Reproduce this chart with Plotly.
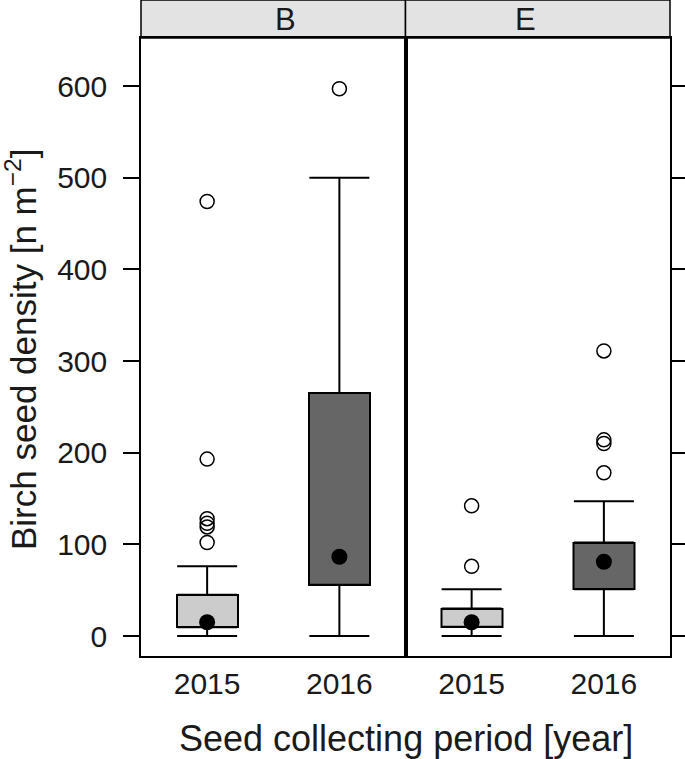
import plotly.graph_objects as go

panels = ["B", "E"]
years = ["2015", "2016"]
# per panel, per year
lower = {"B": [0, 0], "E": [0, 0]}
q1 = {"B": [9.5, 56], "E": [10, 51]}
median = {"B": [15, 86.5], "E": [15, 81]}
q3 = {"B": [45, 265], "E": [30, 102]}
upper = {"B": [76, 500], "E": [51, 147]}
outliers = {
    "B": [[102, 119, 123, 128, 193, 474], [597]],
    "E": [[76, 142], [178, 210, 214, 311]],
}
yticks = [0, 100, 200, 300, 400, 500, 600]
box_colors = ["#cccccc", "#666666"]

W, H = 685, 759
ML, MR, MT, MB = 141, 15, 38, 103
plot_h = H - MT - MB
plot_w = W - ML - MR

fig = go.Figure()
xpos = [1, 2]
for i, p in enumerate(panels):
    xa = "x" if i == 0 else "x2"
    ya = "y" if i == 0 else "y2"
    fig.add_trace(go.Bar(
        x=xpos, y=[b - a for a, b in zip(q1[p], q3[p])], base=q1[p], width=0.46,
        marker=dict(color=box_colors, line=dict(color="black", width=2)),
        xaxis=xa, yaxis=ya, showlegend=False, hoverinfo="skip"))
    fig.add_trace(go.Scatter(
        x=xpos, y=q3[p], mode="markers", marker=dict(color="rgba(0,0,0,0)", size=1),
        error_y=dict(type="data", symmetric=False,
                     array=[u - b for u, b in zip(upper[p], q3[p])],
                     arrayminus=[0, 0], color="black", thickness=2, width=30),
        xaxis=xa, yaxis=ya, showlegend=False, hoverinfo="skip"))
    fig.add_trace(go.Scatter(
        x=xpos, y=q1[p], mode="markers", marker=dict(color="rgba(0,0,0,0)", size=1),
        error_y=dict(type="data", symmetric=False, array=[0, 0],
                     arrayminus=[a - l for a, l in zip(q1[p], lower[p])],
                     color="black", thickness=2, width=30),
        xaxis=xa, yaxis=ya, showlegend=False, hoverinfo="skip"))
    ox, oy = [], []
    for j, vals in enumerate(outliers[p]):
        ox += [xpos[j]] * len(vals)
        oy += vals
    fig.add_trace(go.Scatter(
        x=ox, y=oy, mode="markers",
        marker=dict(symbol="circle-open", size=14, color="black", line=dict(width=1.5)),
        xaxis=xa, yaxis=ya, showlegend=False))
    fig.add_trace(go.Scatter(
        x=xpos, y=median[p], mode="markers",
        marker=dict(symbol="circle", size=16, color="black"),
        xaxis=xa, yaxis=ya, showlegend=False))

font = "Liberation Sans, Arial, sans-serif"
yrange = [-21.8, 652.4]
axis_common = dict(showline=True, linecolor="black", linewidth=1.5, mirror=True,
                   showgrid=False, zeroline=False, automargin=False)
fig.update_layout(
    width=W, height=H, margin=dict(l=ML, r=MR, t=MT, b=MB, autoexpand=False),
    plot_bgcolor="white", paper_bgcolor="white",
    font=dict(family=font, size=30, color="#1a1a1a"),
    bargap=0,
    xaxis=dict(domain=[0, 0.5], range=[0.5, 2.5], tickvals=xpos, ticktext=years,
               ticks="", **axis_common),
    xaxis2=dict(domain=[0.5, 1], range=[0.5, 2.5], tickvals=xpos, ticktext=years,
                ticks="", **axis_common),
    yaxis=dict(range=yrange, tickvals=yticks, ticklabelstandoff=10,
               ticks="outside", ticklen=16, tickwidth=1.5, tickcolor="black",
               **axis_common),
    yaxis2=dict(range=yrange, anchor="x2", side="right",
                tickvals=yticks, showticklabels=False,
                ticks="outside", ticklen=15, tickwidth=1.5, tickcolor="black",
                **axis_common),
)
fig.add_annotation(text="Seed collecting period [year]", xref="paper", yref="paper",
                   x=(406 - ML) / plot_w, y=-(738 - (H - MB)) / plot_h, yanchor="middle",
                   xanchor="center", showarrow=False, font=dict(size=36))
fig.add_annotation(text="Birch seed density [n m<sup>−2</sup>]", xref="paper", yref="paper",
                   x=(21 - ML) / plot_w, y=((H - MB) - 350) / plot_h, textangle=-90,
                   xanchor="center", yanchor="middle", showarrow=False, font=dict(size=35))

strip_h = 38 / plot_h
for i, p in enumerate(panels):
    fig.add_shape(type="rect", xref="paper", yref="paper", x0=i * 0.5, x1=(i + 1) * 0.5,
                  y0=1, y1=1 + strip_h, fillcolor="#e3e3e3",
                  line=dict(color="black", width=1.5), layer="below")
    fig.add_annotation(text=p, xref="paper", yref="paper", x=i * 0.5 + 0.25,
                       y=1 + strip_h / 2, yanchor="middle", showarrow=False,
                       font=dict(size=31))

fig.write_html("out.html", config={"displayModeBar": False},
               post_script="document.body.style.margin='0';")
